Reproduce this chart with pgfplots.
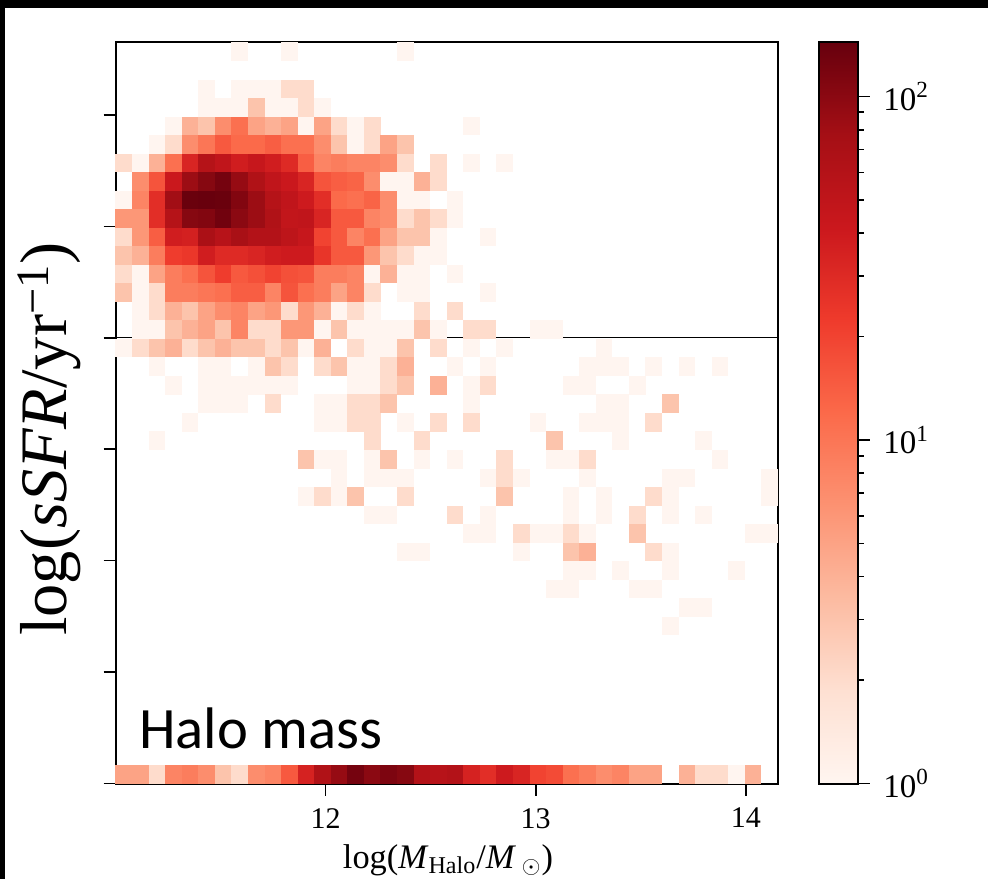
\documentclass[border=0pt]{standalone}
\usepackage{fontspec}
\usepackage{pgfplots}
\pgfplotsset{compat=1.18}
\setmainfont{Liberation Serif}
\newfontfamily\halofont{Carlito}
\pgfdeclareplotmark{cell}{%
  \pgfpathrectanglecorners{\pgfpoint{-4.16pt}{-4.65pt}}{\pgfpoint{4.16pt}{4.65pt}}%
  \pgfusepathqfill}
\pgfplotsset{colormap={reds}{rgb255=(255,245,240) rgb255=(254,224,210) rgb255=(252,187,161) rgb255=(252,146,114) rgb255=(251,106,74) rgb255=(239,59,44) rgb255=(203,24,29) rgb255=(165,15,21) rgb255=(103,0,13)}}
\pgfplotsset{every axis/.append style={line width=1pt}}
\begin{document}
\begin{tikzpicture}
\useasboundingbox (0,0) rectangle (494pt,439.5pt);
\fill[black] (0,435.5pt) rectangle (494pt,439.5pt);
\fill[black] (0,0) rectangle (2.5pt,439.5pt);
\begin{axis}[
  at={(57.75pt,47.75pt)}, anchor=south west,
  scale only axis, width=331.25pt, height=370.5pt,
  xmin=11, xmax=14.153, ymin=-15, ymax=-8.35,
  xtick={12,13,14}, ytick={-15,-14,-13,-12,-11,-10,-9},
  yticklabels={},
  tick align=outside, tick pos=left,
  tick style={black,line width=0.8pt},
  major tick length=6pt,
  axis on top,
  clip=true,
  ticklabel style={font=\fontsize{15}{16}\selectfont},
  /pgf/number format/assume math mode=true,
  xticklabel style={yshift=-2.5pt},
  colormap name=reds,
  point meta min=0, point meta max=2.157,
  colorbar,
  colorbar/width=19.5pt,
  colorbar style={
    at={(parent axis.north east)}, anchor=north west, xshift=11.75pt,
    height=370.5pt, scale only axis,
    ymin=0, ymax=2.157,
    ytick={0,1,2}, yticklabels={10\textsuperscript{0},10\textsuperscript{1},10\textsuperscript{2}},
    minor ytick={0.301,0.477,0.602,0.699,0.778,0.845,0.903,0.954,1.301,1.477,1.602,1.699,1.778,1.845,1.903,1.954},
    tick align=outside, ytick pos=right, yticklabel pos=right,
    major tick length=6pt, minor tick length=3pt,
    tick style={black,line width=0.8pt},
    yticklabel style={font=\fontsize{16.5}{18}\selectfont,xshift=3pt},
  },
]
\addplot[scatter, only marks, mark=cell, point meta=explicit,
  scatter/use mapped color={draw=none,fill=mapped color}]
  table[row sep=\\, x expr={11+(\thisrow{c}+0.5)*0.078825}, y expr={-8.35-(\thisrow{r}+0.5)*0.16625},
        meta expr={log10(\thisrow{v})}] {
c r v\\
7 0 1\\ 10 0 1\\ 17 0 1\\
5 2 1\\ 7 2 1\\ 8 2 1\\ 9 2 1\\ 10 2 2\\ 11 2 2\\
5 3 1\\ 6 3 1\\ 7 3 1\\ 8 3 3\\ 9 3 1\\ 10 3 1\\ 11 3 2\\ 12 3 1\\
3 4 1\\ 4 4 4\\ 5 4 3\\ 6 4 7\\ 7 4 11\\ 8 4 5\\ 9 4 4\\ 10 4 5\\ 11 4 1\\ 12 4 5\\ 13 4 2\\ 14 4 1\\ 15 4 2\\ 21 4 1\\
2 5 1\\ 3 5 2\\ 4 5 7\\ 5 5 10\\ 6 5 15\\ 7 5 12\\ 8 5 12\\ 9 5 14\\ 10 5 11\\ 11 5 11\\ 12 5 7\\ 13 5 3\\ 14 5 1\\ 15 5 2\\ 16 5 5\\ 17 5 3\\
0 6 2\\ 1 6 1\\ 2 6 4\\ 3 6 11\\ 4 6 33\\ 5 6 60\\ 6 6 50\\ 7 6 38\\ 8 6 45\\ 9 6 38\\ 10 6 30\\ 11 6 14\\ 12 6 8\\ 13 6 9\\ 14 6 8\\ 15 6 8\\ 16 6 7\\ 17 6 2\\ 19 6 2\\ 21 6 1\\ 23 6 1\\
1 7 7\\ 2 7 16\\ 3 7 42\\ 4 7 85\\ 5 7 105\\ 6 7 125\\ 7 7 90\\ 8 7 65\\ 9 7 50\\ 10 7 42\\ 11 7 33\\ 12 7 16\\ 13 7 14\\ 14 7 13\\ 15 7 7\\ 16 7 1\\ 17 7 1\\ 18 7 4\\ 19 7 2\\
0 8 1\\ 1 8 8\\ 2 8 28\\ 3 8 80\\ 4 8 140\\ 5 8 143\\ 6 8 140\\ 7 8 110\\ 8 8 85\\ 9 8 60\\ 10 8 50\\ 11 8 40\\ 12 8 28\\ 13 8 12\\ 14 8 11\\ 15 8 13\\ 16 8 7\\ 17 8 1\\ 18 8 1\\ 20 8 1\\
0 9 6\\ 1 9 6\\ 2 9 28\\ 3 9 60\\ 4 9 105\\ 5 9 110\\ 6 9 130\\ 7 9 100\\ 8 9 85\\ 9 9 65\\ 10 9 48\\ 11 9 50\\ 12 9 33\\ 13 9 15\\ 14 9 15\\ 15 9 8\\ 16 9 7\\ 17 9 2\\ 18 9 3\\ 19 9 2\\ 20 9 1\\
0 10 2\\ 1 10 6\\ 2 10 14\\ 3 10 38\\ 4 10 36\\ 5 10 70\\ 6 10 58\\ 7 10 72\\ 8 10 62\\ 9 10 62\\ 10 10 52\\ 11 10 45\\ 12 10 20\\ 13 10 15\\ 14 10 8\\ 15 10 11\\ 16 10 5\\ 17 10 3\\ 18 10 3\\ 19 10 1\\ 22 10 1\\
0 11 3\\ 1 11 4\\ 2 11 9\\ 3 11 22\\ 4 11 24\\ 5 11 38\\ 6 11 30\\ 7 11 30\\ 8 11 33\\ 9 11 38\\ 10 11 40\\ 11 11 40\\ 12 11 25\\ 13 11 15\\ 14 11 15\\ 15 11 6\\ 16 11 3\\ 17 11 2\\ 18 11 1\\ 19 11 1\\
0 12 2\\ 1 12 1\\ 2 12 5\\ 3 12 9\\ 4 12 11\\ 5 12 16\\ 6 12 22\\ 7 12 15\\ 8 12 17\\ 9 12 20\\ 10 12 17\\ 11 12 16\\ 12 12 9\\ 13 12 9\\ 14 12 8\\ 15 12 1\\ 16 12 4\\ 17 12 1\\ 18 12 1\\ 20 12 1\\
0 13 3\\ 1 13 1\\ 2 13 2\\ 3 13 9\\ 4 13 9\\ 5 13 10\\ 6 13 11\\ 7 13 14\\ 8 13 14\\ 9 13 8\\ 10 13 16\\ 11 13 11\\ 12 13 9\\ 13 13 5\\ 14 13 8\\ 15 13 2\\ 17 13 1\\ 18 13 1\\ 22 13 1\\
1 14 1\\ 2 14 2\\ 3 14 4\\ 4 14 3\\ 5 14 5\\ 6 14 7\\ 7 14 8\\ 8 14 5\\ 9 14 6\\ 10 14 2\\ 11 14 6\\ 12 14 4\\ 13 14 1\\ 14 14 2\\ 15 14 1\\ 18 14 2\\ 20 14 2\\
1 15 1\\ 2 15 1\\ 3 15 3\\ 4 15 4\\ 5 15 5\\ 6 15 3\\ 7 15 8\\ 8 15 2\\ 9 15 2\\ 10 15 6\\ 11 15 6\\ 12 15 1\\ 13 15 3\\ 14 15 1\\ 15 15 1\\ 16 15 1\\ 17 15 1\\ 18 15 3\\ 19 15 1\\ 21 15 2\\ 22 15 2\\ 25 15 1\\ 26 15 1\\
0 16 1\\ 1 16 2\\ 2 16 3\\ 3 16 4\\ 4 16 2\\ 5 16 3\\ 6 16 4\\ 7 16 3\\ 8 16 3\\ 9 16 2\\ 10 16 3\\ 11 16 1\\ 12 16 4\\ 14 16 2\\ 15 16 1\\ 16 16 1\\ 17 16 3\\ 19 16 2\\ 21 16 1\\ 23 16 1\\ 29 16 1\\
2 17 1\\ 5 17 1\\ 6 17 1\\ 8 17 1\\ 9 17 3\\ 10 17 2\\ 12 17 2\\ 13 17 3\\ 14 17 1\\ 15 17 1\\ 16 17 2\\ 17 17 4\\ 20 17 1\\ 22 17 1\\ 28 17 1\\ 29 17 1\\ 30 17 1\\ 32 17 1\\ 34 17 1\\ 36 17 1\\
3 18 1\\ 5 18 1\\ 6 18 1\\ 7 18 1\\ 8 18 1\\ 9 18 1\\ 10 18 1\\ 14 18 1\\ 15 18 1\\ 16 18 2\\ 17 18 3\\ 19 18 4\\ 21 18 1\\ 22 18 2\\ 27 18 1\\ 28 18 1\\ 31 18 1\\
5 19 1\\ 6 19 1\\ 7 19 1\\ 9 19 2\\ 12 19 1\\ 13 19 1\\ 14 19 2\\ 15 19 2\\ 16 19 3\\ 21 19 1\\ 29 19 1\\ 30 19 1\\ 33 19 3\\
4 20 1\\ 12 20 1\\ 13 20 1\\ 14 20 2\\ 15 20 2\\ 17 20 1\\ 19 20 2\\ 21 20 2\\ 25 20 1\\ 28 20 1\\ 29 20 1\\ 30 20 1\\ 32 20 2\\
2 21 1\\ 15 21 2\\ 18 21 2\\ 26 21 3\\ 30 21 1\\ 35 21 1\\
11 22 3\\ 12 22 1\\ 13 22 1\\ 15 22 1\\ 16 22 3\\ 18 22 1\\ 20 22 1\\ 23 22 2\\ 26 22 1\\ 27 22 1\\ 28 22 2\\ 36 22 1\\
13 23 1\\ 15 23 1\\ 16 23 1\\ 17 23 1\\ 22 23 1\\ 23 23 2\\ 24 23 1\\ 28 23 1\\ 33 23 1\\ 34 23 1\\ 39 23 1\\
11 24 1\\ 12 24 2\\ 13 24 1\\ 14 24 3\\ 17 24 2\\ 23 24 3\\ 27 24 1\\ 29 24 1\\ 32 24 2\\ 33 24 1\\ 39 24 1\\
15 25 1\\ 16 25 1\\ 20 25 2\\ 22 25 1\\ 27 25 1\\ 29 25 1\\ 31 25 2\\ 33 25 1\\ 35 25 1\\
21 26 1\\ 22 26 1\\ 24 26 2\\ 25 26 1\\ 26 26 1\\ 27 26 2\\ 28 26 1\\ 31 26 3\\ 38 26 1\\ 39 26 1\\
17 27 1\\ 18 27 1\\ 24 27 1\\ 27 27 3\\ 28 27 4\\ 32 27 2\\ 33 27 1\\
27 28 1\\ 28 28 1\\ 30 28 1\\ 33 28 1\\ 37 28 1\\
26 29 1\\ 27 29 1\\ 31 29 1\\ 32 29 1\\
34 30 1\\ 35 30 1\\
33 31 1\\
0 39 5\\ 1 39 5\\ 2 39 2\\ 3 39 8\\ 4 39 9\\ 5 39 7\\ 6 39 3\\ 7 39 2\\ 8 39 7\\ 9 39 8\\ 10 39 15\\ 11 39 35\\ 12 39 65\\ 13 39 90\\ 14 39 125\\ 15 39 100\\ 16 39 115\\ 17 39 105\\ 18 39 62\\ 19 39 58\\ 20 39 62\\ 21 39 35\\ 22 39 28\\ 23 39 40\\ 24 39 33\\ 25 39 20\\ 26 39 18\\ 27 39 11\\ 28 39 9\\ 29 39 7\\ 30 39 8\\ 31 39 5\\ 32 39 5\\ 34 39 4\\ 35 39 2\\ 36 39 2\\ 37 39 1\\ 38 39 4\\
};
\addplot[black,line width=0.6pt,forget plot] coordinates {(11,-11) (14.153,-11)};
\end{axis}
\node[anchor=west,inner sep=0pt,font=\halofont\fontsize{29.3}{30}\selectfont] at (69.5pt,75.5pt) {Halo mass};
\node[rotate=90,inner sep=0pt,font=\fontsize{33.2}{35}\selectfont] at (24.5pt,220pt) {log(\textit{sSFR}/yr\textsuperscript{−1})};
\node[inner sep=0pt,font=\fontsize{17.2}{19}\selectfont] at (224pt,9.5pt) {log(\textit{M}\textsubscript{Halo}/\textit{M}\,$_\odot$)};
\end{tikzpicture}
\end{document}
